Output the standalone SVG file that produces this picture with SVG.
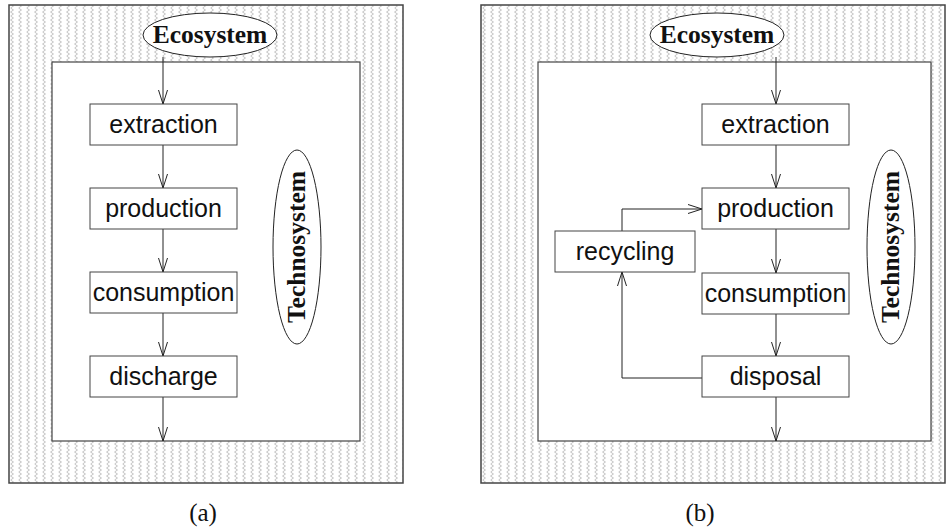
<svg xmlns="http://www.w3.org/2000/svg" width="946" height="528" viewBox="0 0 946 528">
<style>
.outer{fill:url(#wave);stroke:#444;stroke-width:1.5}
.inner{fill:#fff;stroke:#444;stroke-width:1.2}
.box{fill:#fff;stroke:#444;stroke-width:1}
.ell{fill:#fff;stroke:#222;stroke-width:1}
.lbl{font-family:"Liberation Sans",Arial,sans-serif;font-size:25px;fill:#111;text-anchor:middle}
.big{font-family:"Liberation Serif","Times New Roman",serif;font-weight:bold;font-size:25.5px;fill:#111;text-anchor:middle}
.cap{font-family:"Liberation Serif","Times New Roman",serif;font-size:25px;fill:#111;text-anchor:middle}
.edge{fill:none;stroke:#222;stroke-width:1;marker-end:url(#arr)}
</style>
<defs>
<pattern id="wave" patternUnits="userSpaceOnUse" width="8" height="8">
<rect width="8" height="8" fill="#fff"/>
<path d="M2.5,0 L5.5,2 L2.5,4 L5.5,6 L2.5,8" fill="none" stroke="#b4b4b4" stroke-width="0.8"/>
</pattern>
<marker id="arr" markerUnits="userSpaceOnUse" markerWidth="16" markerHeight="12" viewBox="-14 -6 16 12" refX="0" refY="0" orient="auto">
<path d="M-14,-4.5 L0,0 L-14,4.5" fill="none" stroke="#222" stroke-width="1"/>
</marker>
</defs>

<g id="panel-a">
<rect class="outer" x="9" y="5" width="394" height="478"/>
<rect class="inner" x="52" y="62" width="308" height="379"/>
</g>
<g id="panel-b">
<rect class="outer" x="481" y="5" width="464" height="478"/>
<rect class="inner" x="538" y="62" width="393" height="379"/>
</g>

<g id="connectors">
<path class="edge" d="M163,57 V104"/>
<path class="edge" d="M163,145 V188"/>
<path class="edge" d="M163,229 V272"/>
<path class="edge" d="M163,313 V356"/>
<path class="edge" d="M163,397 V441"/>
<path class="edge" d="M776,57 V104"/>
<path class="edge" d="M776,145 V188"/>
<path class="edge" d="M776,229 V273"/>
<path class="edge" d="M776,314 V356"/>
<path class="edge" d="M776,397 V441"/>
<path class="edge" d="M622,231 V209 H702"/>
<path class="edge" d="M702,378 H622 V272"/>
</g>

<g id="a-ecosystem"><ellipse class="ell" cx="210" cy="35" rx="67" ry="22"/><text class="big" x="210" y="43">Ecosystem</text></g>
<g id="a-technosystem"><ellipse class="ell" cx="297" cy="247" rx="24" ry="97"/><text class="big" x="305" y="247" transform="rotate(-90 305 247)">Technosystem</text></g>
<g id="a-extraction"><rect class="box" x="90" y="104" width="147" height="41"/><text class="lbl" x="163.5" y="133">extraction</text></g>
<g id="a-production"><rect class="box" x="90" y="188" width="147" height="41"/><text class="lbl" x="163.5" y="217">production</text></g>
<g id="a-consumption"><rect class="box" x="90" y="272" width="147" height="41"/><text class="lbl" x="163.5" y="301">consumption</text></g>
<g id="a-discharge"><rect class="box" x="90" y="356" width="147" height="41"/><text class="lbl" x="163.5" y="385">discharge</text></g>

<g id="b-ecosystem"><ellipse class="ell" cx="717" cy="35" rx="67" ry="22"/><text class="big" x="717" y="43">Ecosystem</text></g>
<g id="b-technosystem"><ellipse class="ell" cx="891" cy="247" rx="24" ry="97"/><text class="big" x="899" y="247" transform="rotate(-90 899 247)">Technosystem</text></g>
<g id="b-extraction"><rect class="box" x="702" y="104" width="147" height="41"/><text class="lbl" x="775.5" y="133">extraction</text></g>
<g id="b-production"><rect class="box" x="702" y="188" width="147" height="41"/><text class="lbl" x="775.5" y="217">production</text></g>
<g id="b-consumption"><rect class="box" x="702" y="273" width="147" height="41"/><text class="lbl" x="775.5" y="302">consumption</text></g>
<g id="b-disposal"><rect class="box" x="702" y="356" width="147" height="41"/><text class="lbl" x="775.5" y="385">disposal</text></g>
<g id="b-recycling"><rect class="box" x="555" y="231" width="140" height="41"/><text class="lbl" x="625" y="260">recycling</text></g>

<text class="cap" x="203" y="521">(a)</text>
<text class="cap" x="700" y="521">(b)</text>
</svg>
